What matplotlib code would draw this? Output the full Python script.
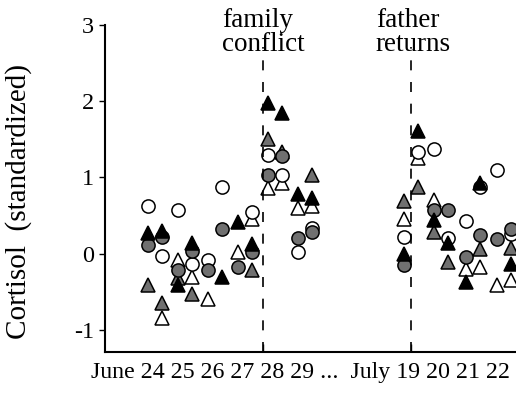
import numpy as np
import matplotlib.pyplot as plt

# day positions on the x axis (June 24-29, then July 19-22 after a gap)
day_pos = [24, 25, 26, 27, 28, 29, 32.55, 33.55, 34.6, 35.65]
sample_offset = [0.0, 0.47]  # two samples per day

# cortisol (standardized), two samples per day, nan = not visible
open_circle = [0.63, -0.03, 0.57, -0.13, -0.08, 0.88, np.nan, 0.55, 1.30, 1.03,
               0.02, 0.34, 0.22, 1.34, 1.37, 0.21, 0.43, 0.87, 1.10, 0.26]
gray_circle = [0.12, 0.22, -0.22, 0.03, -0.22, 0.32, -0.17, 0.02, 1.03, 1.28,
               0.21, 0.28, -0.15, np.nan, 0.57, 0.57, -0.05, 0.24, 0.19, 0.33]
filled_tri = [0.27, 0.30, -0.41, 0.14, np.nan, -0.31, 0.41, 0.13, 1.98, 1.85,
              0.78, 0.73, 0.00, 1.61, 0.44, 0.14, -0.37, 0.93, np.nan, -0.14]
gray_tri = [-0.41, -0.65, -0.32, -0.53, np.nan, np.nan, np.nan, -0.22, 1.50, 1.33,
            np.nan, 1.03, 0.69, 0.88, 0.28, -0.11, np.nan, 0.06, np.nan, 0.07]
open_tri = [np.nan, -0.84, -0.08, -0.30, -0.60, np.nan, 0.02, 0.45, 0.86, 0.93,
            0.60, 0.62, 0.46, 1.26, 0.70, np.nan, -0.20, -0.17, -0.41, -0.34]

x_label = "June 24 25 26 27 28 29 ...  July 19 20 21 22"
events = [("family\nconflict", 27.83, 26.47), ("father\nreturns", 32.77, 31.6)]

plt.rcParams['font.family'] = ['Liberation Serif', 'DejaVu Serif']

x = np.array([d + o for d in day_pos for o in sample_offset])

fig = plt.figure(figsize=(5.16, 3.93), dpi=100)
ax = fig.add_axes([105 / 516, 41 / 393, 411 / 516, 327 / 393])

ms = 9.5
ew = 1.1
gray = '#707070'
ax.plot(x, open_tri, '^', ms=ms + 0.5, mfc='white', mec='black', mew=ew, ls='none')
ax.plot(x, open_circle, 'o', ms=ms, mfc='white', mec='black', mew=ew, ls='none')
ax.plot(x, gray_tri, '^', ms=ms + 0.5, mfc=gray, mec='black', mew=ew, ls='none')
ax.plot(x, gray_circle, 'o', ms=ms, mfc=gray, mec='black', mew=ew, ls='none')
ax.plot(x, filled_tri, '^', ms=ms + 0.5, mfc='black', mec='black', mew=ew, ls='none')

for label, xline, xtext in events:
    ax.plot([xline, xline], [-1.29, 2.71], color='black', lw=1.2,
            ls=(0, (6, 7)), clip_on=False)
    ax.text(xtext, 3.22, label, ha='left', va='top', fontsize=19.5,
            linespacing=0.92, clip_on=False)

ax.set_xlim(22.57, 36.27)
ax.set_ylim(-1.29, 3.0)

ax.spines['top'].set_visible(False)
ax.spines['right'].set_visible(False)
ax.spines['left'].set_linewidth(1.5)
ax.spines['bottom'].set_linewidth(1.5)

ax.set_yticks([-1, 0, 1, 2, 3])
ax.set_yticklabels(['-1', '0', '1', '2', '3'], fontsize=17.5)
ax.tick_params(axis='y', direction='out', length=4, width=1, pad=4)

ax.set_xticks([e[1] for e in events])
ax.set_xticklabels([])
ax.tick_params(axis='x', direction='in', length=6, width=1)

ax.text(0.475, -0.062, x_label, transform=ax.transAxes, ha='center',
        va='center', fontsize=17.2)
ax.set_ylabel("Cortisol  (standardized)", fontsize=21)
ax.yaxis.set_label_coords(-0.178, 0.46)

fig.savefig('out.png', dpi=100)
